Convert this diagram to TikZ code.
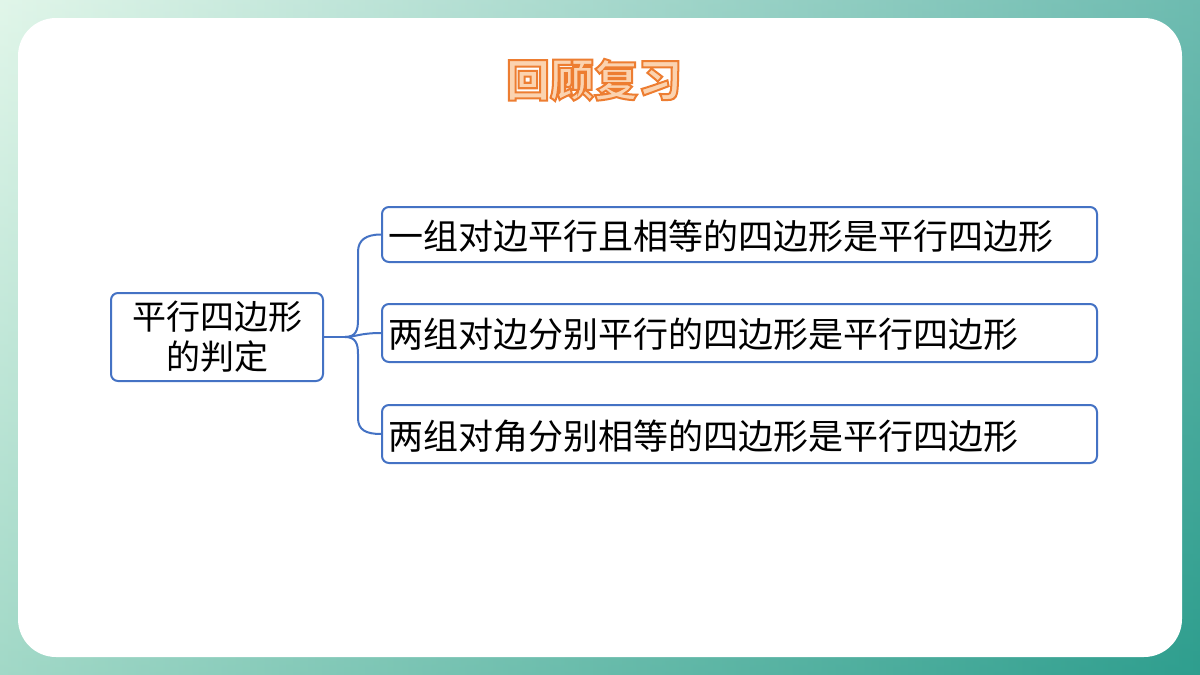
\documentclass[tikz,border=0pt]{standalone}
\usepackage{fontspec}
\newfontfamily\cjk{Noto Sans CJK SC}
\definecolor{bl}{HTML}{4472C4}
\definecolor{gA}{HTML}{D4F2E0}
\definecolor{gB}{HTML}{2E9E8E}
\definecolor{orL}{HTML}{FBD3B0}
\tikzset{
 box/.style={draw=bl,line width=2pt,rounded corners=7pt,fill=white,inner sep=0pt},
 lnk/.style={draw=bl,line width=2pt},
 lbl/.style={font=\cjk\fontsize{35}{40}\selectfont,anchor=west}
}
\begin{document}
\begin{tikzpicture}[x=1pt,y=-1pt]
\useasboundingbox (0,0) rectangle (1200,675);
\shade[left color=gA,right color=gB] (0,0) rectangle (1200,675);
\shade[top color=gA!0,bottom color=gB,opacity=0.3] (0,0) rectangle (1200,675);
\fill[white,rounded corners=38pt] (18,18) rectangle (1182,657);
% title
\node (title) [text=orL,font=\cjk\bfseries\fontsize{44}{48}\selectfont] at (594,80)
  {\special{pdf:literal direct 2 Tr 2 w 0.929 0.49 0.192 RG}回顾复习\special{pdf:literal direct 0 Tr}};
% nodes
\node (root) [box,minimum width=212pt,minimum height=88pt,align=center,font=\cjk\fontsize{34}{40}\selectfont] at (217,337) {平行四边形\\的判定};
\node (a) [box,minimum width=715pt,minimum height=55pt] at (739.5,234.5) {};
\node (b) [box,minimum width=715pt,minimum height=58pt] at (739.5,333) {};
\node (c) [box,minimum width=715pt,minimum height=58pt] at (739.5,434) {};
\node[lbl] at (385,236) {一组对边平行且相等的四边形是平行四边形};
\node[lbl] at (385,334) {两组对边分别平行的四边形是平行四边形};
\node[lbl] at (385,436) {两组对角分别相等的四边形是平行四边形};
% connectors
\coordinate (j) at (345,337);
\draw[lnk] (root.east) -- (j);
\draw[lnk] (j) .. controls (356,337) and (358,330) .. (358,320) -- (358,252) .. controls (358,240) and (366,234.5) .. (a.west);
\draw[lnk] (j) .. controls (356,337) and (358,344) .. (358,354) -- (358,418) .. controls (358,430) and (366,434) .. (c.west);
\draw[lnk] (j) .. controls (355,337) and (360,333) .. (b.west);
\end{tikzpicture}
\end{document}
